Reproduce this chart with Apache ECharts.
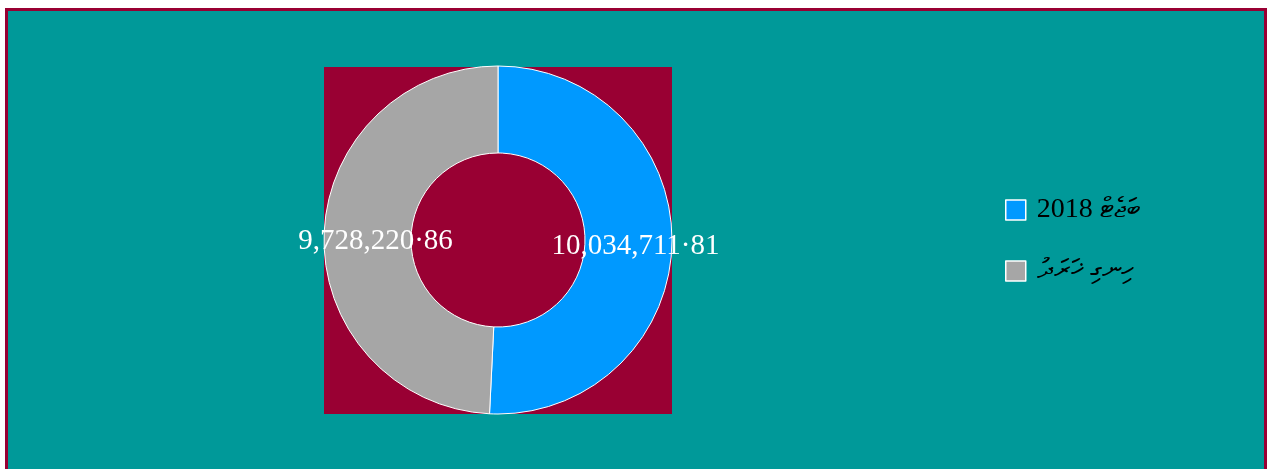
<!DOCTYPE html>
<html>
<head>
<meta charset="utf-8">
<script src="https://cdn.jsdelivr.net/npm/echarts@6/dist/echarts.min.js"></script>
<style>html,body{margin:0;padding:0;background:#fff;}#c{width:1268px;height:469px;}</style>
</head>
<body>
<div id="c"></div>
<script>
const categories = ['\u202Bބަޖެޓް 2018\u202C', '\u202Bހިނގި ޚަރަދު\u202C'];
const values = [10034711.81, 9728220.86];
const colors = ['#0099FF', '#A6A6A6'];

function fmt(v) {
  const parts = v.toFixed(2).split('.');
  return parts[0].replace(/\B(?=(\d{3})+(?!\d))/g, ',') + '·' + parts[1];
}

const chart = echarts.init(document.getElementById('c'), null, {renderer: 'canvas'});
chart.setOption({
  backgroundColor: '#ffffff',
  animation: false,
  graphic: [
    {type: 'rect', z: -10, shape: {x: 6.5, y: 9.5, width: 1259, height: 480},
     style: {fill: '#009999', stroke: '#990033', lineWidth: 3}},
    {type: 'rect', z: -5, shape: {x: 324, y: 67, width: 348, height: 347},
     style: {fill: '#990033'}}
  ],
  legend: {
    orient: 'vertical',
    left: 1005,
    top: 196,
    padding: 0,
    itemWidth: 20,
    itemHeight: 20,
    itemGap: 33,
    icon: 'rect',
    itemStyle: {borderColor: '#ffffff', borderWidth: 1.5},
    textStyle: {fontFamily: '"Liberation Serif", "DejaVu Sans", serif', fontSize: 28, color: '#000', lineHeight: 20, padding: [0, 0, 0, 6]},
    data: categories
  },
  series: [{
    type: 'pie',
    center: [498, 240],
    radius: [87, 174],
    startAngle: 90,
    clockwise: true,
    silent: true,
    itemStyle: {borderColor: '#ffffff', borderWidth: 1},
    label: {
      show: true,
      position: 'inside',
      color: '#ffffff',
      fontFamily: '"Liberation Serif", serif',
      fontSize: 29,
      formatter: p => fmt(p.value)
    },
    labelLayout: p => ({dy: p.dataIndex === 0 ? 3 : 5}),
    labelLine: {show: false},
    data: categories.map((c, i) => ({
      name: c, value: values[i], itemStyle: {color: colors[i]},
      label: {padding: i === 0 ? [0, 0, 0, 8] : [0, 0, 0, 22]}
    }))
  }]
});
</script>
</body>
</html>
